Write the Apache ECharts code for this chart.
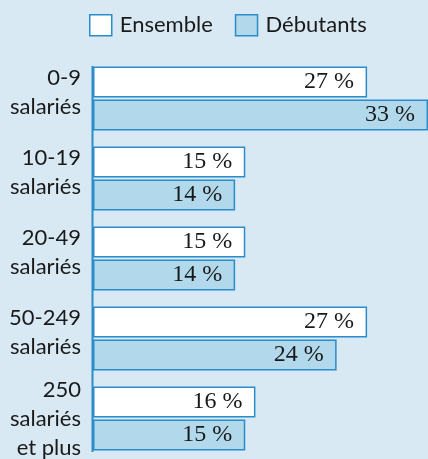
<!DOCTYPE html>
<html>
<head>
<meta charset="utf-8">
<script src="https://cdn.jsdelivr.net/npm/echarts@6/dist/echarts.min.js"></script>
<style>
  html, body { margin: 0; padding: 0; background: #d8e9f3; }
  #chart { width: 428px; height: 459px; }
</style>
</head>
<body>
<div id="chart"></div>
<script>
var categories = ['0-9\nsalariés', '10-19\nsalariés', '20-49\nsalariés', '50-249\nsalariés', '250\nsalariés\net plus'];
var ensemble = [27, 15, 15, 27, 16];
var debutants = [33, 14, 14, 24, 15];

var chart = echarts.init(document.getElementById('chart'));

var labelStyle = {
  show: true,
  position: 'insideRight',
  distance: 13,
  fontFamily: 'Liberation Serif',
  fontSize: 24,
  color: '#1a1a1a',
  formatter: function (p) { return p.value + ' %'; }
};

var option = {
  backgroundColor: '#d8e9f3',
  animation: false,
  legend: {
    left: 89,
    top: 14,
    padding: 0,
    itemWidth: 22,
    itemHeight: 21,
    itemGap: 22,
    textStyle: { fontFamily: 'Lato', fontSize: 22, color: '#1a1a1a', padding: [0, 0, 0, 3] },
    data: [
      { name: 'Ensemble', icon: 'rect', itemStyle: { color: '#ffffff', borderColor: '#2b8ccb', borderWidth: 1.5 } },
      { name: 'Débutants', icon: 'rect', itemStyle: { color: '#b2d8eb', borderColor: '#2b8ccb', borderWidth: 1.5 } }
    ]
  },
  grid: { left: 93, right: 0, top: 58.5, bottom: 0.5, containLabel: false },
  xAxis: {
    type: 'value',
    min: 0,
    max: 33,
    show: false
  },
  yAxis: {
    type: 'category',
    inverse: true,
    data: categories,
    axisLine: { show: false },
    axisTick: { show: false },
    axisLabel: {
      margin: 12,
      align: 'right',
      formatter: function (v) {
        var lines = v.split('\n').map(function (s) { return '{t|' + s + '}'; });
        if (lines.length === 2) lines.push('{s| }');
        return lines.join('\n');
      },
      rich: {
        t: { fontFamily: 'Lato', fontSize: 22, lineHeight: 29, color: '#1a1a1a', align: 'right' },
        s: { fontSize: 10, lineHeight: 12, align: 'right' }
      }
    }
  },
  graphic: [{
    type: 'line',
    shape: { x1: 92.5, y1: 66, x2: 92.5, y2: 452 },
    style: { stroke: '#2b8ccb', lineWidth: 2 },
    z: 10
  }],
  series: [
    {
      name: 'Ensemble',
      type: 'bar',
      data: ensemble,
      barWidth: 31,
      barGap: '6%',
      itemStyle: { color: '#ffffff', borderColor: '#2b8ccb', borderWidth: 1.5 },
      label: labelStyle
    },
    {
      name: 'Débutants',
      type: 'bar',
      data: debutants,
      barWidth: 31,
      barGap: '6%',
      itemStyle: { color: '#b2d8eb', borderColor: '#2b8ccb', borderWidth: 1.5 },
      label: labelStyle
    }
  ]
};

chart.setOption(option);
window.addEventListener('resize', chart.resize);
</script>
</body>
</html>
